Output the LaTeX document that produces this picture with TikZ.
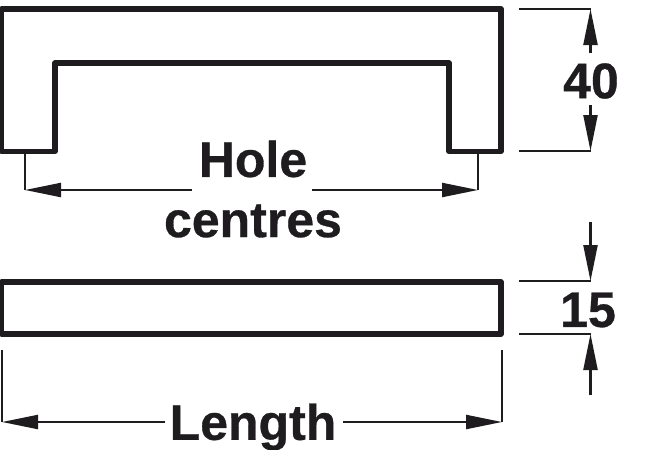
\documentclass[tikz,border=0pt]{standalone}
\usepackage{fontspec}
\setmainfont[FakeBold=0.6]{Liberation Sans}
\usetikzlibrary{arrows.meta}
\definecolor{ink}{RGB}{30,28,30}
\tikzset{
  part/.style={draw=ink,line width=5.4pt,line join=round},
  dimline/.style={draw=ink,line width=2.2pt},
  dimarrow/.style={dimline,-{Triangle[length=36pt,width=14pt,fill=ink]}},
  lbl/.style={text=ink,font=\bfseries\fontsize{50}{50}\selectfont,inner sep=0pt}
}
\begin{document}
\begin{tikzpicture}[x=1pt,y=-1pt]
\useasboundingbox (0,0) rectangle (667,450);
% handle
\draw[part] (1.5,151.5) -- (1.5,9) -- (501,9) -- (501,151.5) -- (449,151.5) -- (449,63) -- (55,63) -- (55,151.5) -- cycle;
\draw[part] (1.5,282) rectangle (501,334);
% labels
\node[lbl] (hole) at (253,159) {Hole};
\node[lbl] (centres) at (253,221) {centres};
\node[lbl] (length) at (253,427) {Length};
\node[lbl] (forty) at (591,81) {40};
\node[lbl] (fifteen) at (588,310) {15};
% hole centres
\coordinate (hl0) at (25,153);
\coordinate (hl) at (25,190);
\coordinate (hr0) at (478,153);
\coordinate (hr) at (478,190);
\coordinate (hla) at (192,190);
\coordinate (hra) at (312,190);
\draw[dimline] (hl0) -- (hl);
\draw[dimline] (hr0) -- (hr);
\draw[dimarrow] (hla) -- (hl);
\draw[dimarrow] (hra) -- (hr);
% length
\coordinate (ll0) at (2,350);
\coordinate (ll) at (2,422);
\coordinate (lr0) at (502,350);
\coordinate (lr) at (502,422);
\coordinate (lla) at (165,422);
\coordinate (lra) at (343,422);
\draw[dimline] (ll0) -- (ll);
\draw[dimline] (lr0) -- (lr);
\draw[dimarrow] (lla) -- (ll);
\draw[dimarrow] (lra) -- (lr);
% 40
\coordinate (a0) at (519,9);
\coordinate (a) at (590.5,9);
\coordinate (b0) at (519,151);
\coordinate (b) at (590.5,151);
\coordinate (aa) at (590.5,53);
\coordinate (ba) at (590.5,105);
\draw[dimline] (a0) -- (a);
\draw[dimline] (b0) -- (b);
\draw[dimarrow] (aa) -- (a);
\draw[dimarrow] (ba) -- (b);
% 15
\coordinate (c0) at (519,281);
\coordinate (c) at (590.5,281);
\coordinate (d0) at (519,334);
\coordinate (d) at (590.5,334);
\coordinate (ca) at (590.5,222);
\coordinate (da) at (590.5,395);
\draw[dimline] (c0) -- (c);
\draw[dimline] (d0) -- (d);
\draw[dimarrow] (ca) -- (c);
\draw[dimarrow] (da) -- (d);
\end{tikzpicture}
\end{document}
